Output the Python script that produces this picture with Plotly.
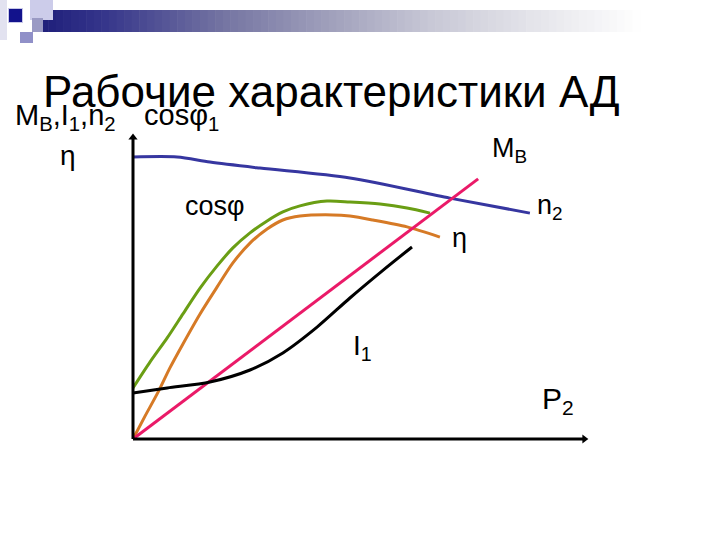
import plotly.graph_objects as go

# ---- data (P2 in relative units, characteristic values in relative units) ----
p2_n2 = [0, 0.98, 1.71, 2.82, 4.82, 7.04, 8.82]
n2 = [9.40, 9.40, 9.23, 9.03, 8.70, 8.03, 7.53]

p2_cos = [0, 0.38, 0.76, 1.11, 1.49, 1.87, 2.22, 2.60, 2.98, 3.33, 3.71, 4.31, 4.82, 5.49, 6.09, 6.60]
cos_phi = [1.70, 2.57, 3.37, 4.17, 5.03, 5.77, 6.37, 6.87, 7.27, 7.57, 7.77, 7.93, 7.90, 7.83, 7.70, 7.53]

p2_eta = [0, 0.27, 0.56, 0.82, 1.11, 1.49, 1.87, 2.22, 2.60, 2.98, 3.33, 3.71, 4.44, 4.82, 5.33, 6.09, 6.82]
eta = [0, 0.77, 1.57, 2.37, 3.17, 4.17, 5.07, 5.87, 6.53, 7.00, 7.30, 7.43, 7.47, 7.43, 7.30, 7.07, 6.73]

p2_m = [0, 7.67]
m_v = [0, 8.67]

p2_i = [0, 0.76, 1.71, 2.60, 3.33, 4.09, 4.82, 5.56, 6.20]
i1 = [1.53, 1.70, 1.90, 2.30, 2.87, 3.73, 4.70, 5.63, 6.40]

y_axis_top = 10.17
x_axis_right = 10.11

W, H = 720, 540
X0, Y0, SX, SY = 133, 439, 45.0, 30.0  # origin pixel and pixels per unit


def P(px, py):
    return px / W, 1 - py / H


fig = go.Figure()
fig.add_trace(go.Scatter(x=p2_n2, y=n2, mode="lines", line=dict(color="#3636a0", width=3, shape="spline", smoothing=0.8)))
fig.add_trace(go.Scatter(x=p2_cos, y=cos_phi, mode="lines", line=dict(color="#6a9e14", width=3, shape="spline", smoothing=0.8)))
fig.add_trace(go.Scatter(x=p2_eta, y=eta, mode="lines", line=dict(color="#d67a26", width=3, shape="spline", smoothing=0.8)))
fig.add_trace(go.Scatter(x=p2_m, y=m_v, mode="lines", line=dict(color="#ea1a68", width=3)))
fig.add_trace(go.Scatter(x=p2_i, y=i1, mode="lines", line=dict(color="#000000", width=3, shape="spline", smoothing=0.8)))

# axes (lines + arrow tips)
fig.add_trace(go.Scatter(x=[0, 0], y=[0, y_axis_top - 0.15], mode="lines", line=dict(color="black", width=3)))
fig.add_trace(go.Scatter(x=[0, x_axis_right - 0.1], y=[0, 0], mode="lines", line=dict(color="black", width=3)))
fig.add_trace(go.Scatter(x=[0], y=[y_axis_top - 0.12], mode="markers",
                         marker=dict(symbol="triangle-up", size=8, color="black")))
fig.add_trace(go.Scatter(x=[x_axis_right - 0.08], y=[0], mode="markers",
                         marker=dict(symbol="triangle-right", size=8, color="black")))

shapes = []
# decorative header gradient bar
stops = [(33, (28, 28, 120)), (100, (52, 52, 138)), (230, (120, 120, 164)), (330, (160, 160, 188)),
         (430, (200, 200, 214)), (530, (228, 228, 234)), (640, (255, 255, 255))]
nseg = 80
for k in range(nseg):
    a = 33 + (640 - 33) * k / nseg
    b = 33 + (640 - 33) * (k + 1) / nseg + 0.6
    m = (a + b) / 2
    c = stops[-1][1]
    for j in range(len(stops) - 1):
        if stops[j][0] <= m <= stops[j + 1][0]:
            t = (m - stops[j][0]) / (stops[j + 1][0] - stops[j][0])
            c = tuple(int(stops[j][1][q] + t * (stops[j + 1][1][q] - stops[j][1][q])) for q in range(3))
            break
    x0, y0 = P(a, 10)
    x1, y1 = P(b, 32)
    shapes.append(dict(type="rect", xref="paper", yref="paper", x0=x0, x1=x1, y0=y1, y1=y0,
                       fillcolor="rgb(%d,%d,%d)" % c, line=dict(width=0), layer="below"))


def rect(a, b, c, d, col):
    x0, y0 = P(a, b)
    x1, y1 = P(c, d)
    shapes.append(dict(type="rect", xref="paper", yref="paper", x0=x0, x1=x1, y0=y1, y1=y0,
                       fillcolor=col, line=dict(width=0), layer="below"))


rect(0, 0, 7, 40, "#e2e2f0")
rect(30, 0, 53, 20, "#ccccea")
rect(32, 18, 43, 32, "#9a9ac4")
rect(20, 32, 33, 43, "#9090c8")
rect(8, 8, 23, 23, "#c8c8e8")
rect(9, 9, 22, 22, "#12128c")

annotations = []
FONT = "Liberation Sans, Arial, sans-serif"


def label(txt, px, py, size):
    x, y = P(px, py)
    annotations.append(dict(x=x, y=y, xref="paper", yref="paper", text=txt, showarrow=False,
                            xanchor="left", yanchor="middle", font=dict(family=FONT, size=size, color="black")))


label("Рабочие характеристики АД", 41, 91, 44)
label("M<sub>В</sub>,I<sub>1</sub>,n<sub>2</sub>", 13, 117, 29)
label("cosφ<sub>1</sub>", 142, 117, 29)
label("η", 58, 156, 28)
label("cosφ", 183, 206, 27)
label("M<sub>В</sub>", 490, 150, 27)
label("n<sub>2</sub>", 535, 207, 27)
label("η", 450, 238, 27)
label("I<sub>1</sub>", 351, 347, 28)
label("P<sub>2</sub>", 540, 400, 30)

fig.update_layout(
    width=W, height=H, margin=dict(l=0, r=0, t=0, b=0),
    paper_bgcolor="white", plot_bgcolor="white", showlegend=False,
    xaxis=dict(range=[-X0 / SX, (W - X0) / SX], visible=False, fixedrange=True),
    yaxis=dict(range=[(Y0 - H) / SY, Y0 / SY], visible=False, fixedrange=True),
    shapes=shapes, annotations=annotations,
)
fig.write_html("out.html", config={"displayModeBar": False},
               post_script="document.body.style.margin='0px';")
